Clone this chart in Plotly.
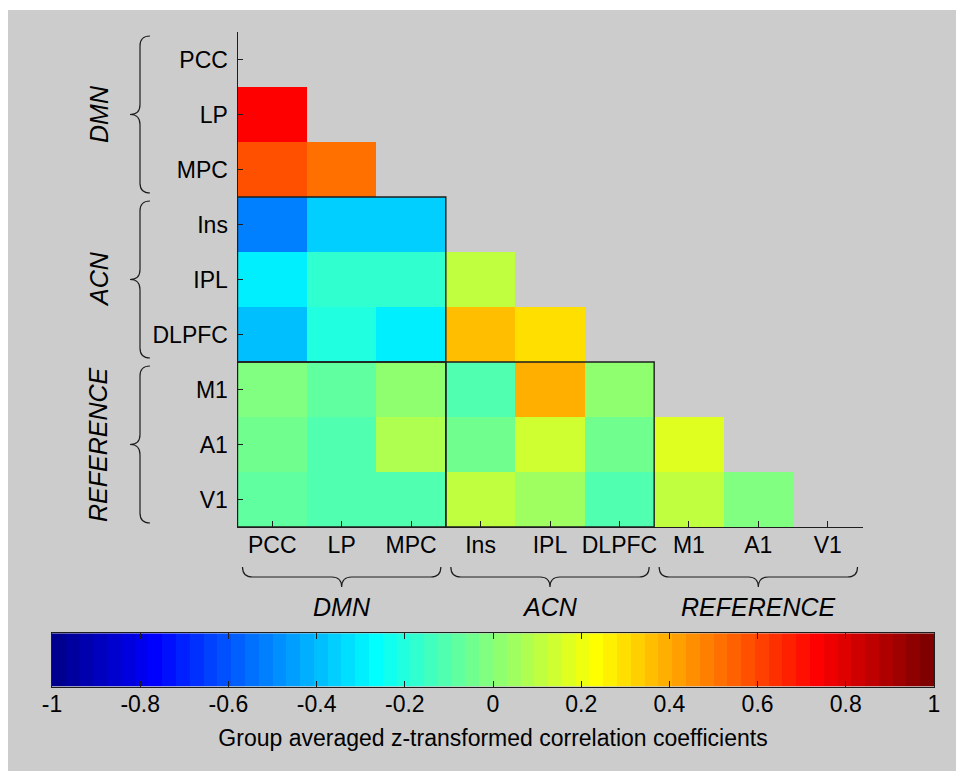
import numpy as np
import plotly.graph_objects as go

# ---------------------------------------------------------------- data
regions = ["PCC", "LP", "MPC", "Ins", "IPL", "DLPFC", "M1", "A1", "V1"]
groups = ["DMN", "ACN", "REFERENCE"]
group_spans = [(0, 3), (3, 6), (6, 9)]          # region index ranges per network

# lower-triangle rows of the group-averaged z-transformed correlation matrix
row_LP    = [0.73]
row_MPC   = [0.58, 0.52]
row_Ins   = [-0.52, -0.36, -0.36]
row_IPL   = [-0.30, -0.17, -0.17, 0.11]
row_DLPFC = [-0.39, -0.20, -0.30, 0.36, 0.30]
row_M1    = [-0.015, -0.08, 0.015, -0.11, 0.39, 0.015]
row_A1    = [-0.045, -0.11, 0.08, -0.045, 0.14, -0.045, 0.17]
row_V1    = [-0.08, -0.11, -0.11, 0.11, 0.045, -0.11, 0.11, -0.015]

cbar_ticks = [-1, -0.8, -0.6, -0.4, -0.2, 0, 0.2, 0.4, 0.6, 0.8, 1]
cbar_title = "Group averaged z-transformed correlation coefficients"

# ---------------------------------------------------------------- matrix
n = len(regions)
lower_rows = [[], row_LP, row_MPC, row_Ins, row_IPL, row_DLPFC, row_M1, row_A1, row_V1]
Z = np.full((n, n), np.nan)
for i, vals in enumerate(lower_rows):
    Z[i, :len(vals)] = vals


# ---------------------------------------------------------------- MATLAB jet(64), stepped
def jet(m=64):
    k = int(np.ceil(m / 4))
    u = np.concatenate([np.arange(1, k + 1) / k, np.ones(k - 1), np.arange(k, 0, -1) / k])
    g = int(np.ceil(k / 2)) - (1 if m % 4 == 1 else 0) + np.arange(1, len(u) + 1)
    r, b = g + k, g - k
    J = np.zeros((m, 3))
    for idx, col in ((r, 0), (g, 1), (b, 2)):
        ok = (idx >= 1) & (idx <= m)
        J[idx[ok] - 1, col] = u[ok]
    return J


LEVELS = 64
cmap = jet(LEVELS)
colorscale = []
for j, c in enumerate(cmap):
    rgb = "rgb({},{},{})".format(*[int(round(v * 255)) for v in c])
    colorscale.append([j / LEVELS, rgb])
    colorscale.append([(j + 1) / LEVELS, rgb])

# ---------------------------------------------------------------- geometry (pixels)
W, H = 956, 771
PX0, PX1 = 237.5, 862.5      # heatmap left/right
PY0, PY1 = 32.0, 527.0       # heatmap top/bottom
CX0, CX1 = 52.0, 934.0       # colour bar left/right
CY0, CY1 = 633.3, 686.7      # colour bar top/bottom


def fx(px):
    return px / W


def fy(py):
    return 1 - py / H


def col_px(c):
    return PX0 + c * (PX1 - PX0) / n


def row_px(r):
    return PY0 + r * (PY1 - PY0) / n


FONT = "Liberation Sans, Arial, sans-serif"
INK = "#1e1e1e"
BG = "#cccccc"

fig = go.Figure()

fig.add_trace(go.Heatmap(
    z=Z, x=list(range(n)), y=list(range(n)),
    colorscale=colorscale, zmin=-1, zmax=1, showscale=False,
    hoverongaps=False, xaxis="x", yaxis="y",
))

# colour bar drawn as its own strip of the 64 levels
centers = [-1 + (j + 0.5) * 2 / LEVELS for j in range(LEVELS)]
fig.add_trace(go.Heatmap(
    z=[centers], x=centers, y=[0],
    colorscale=colorscale, zmin=-1, zmax=1, showscale=False,
    xaxis="x2", yaxis="y2",
))

shapes = []
# grey panel (white strip along top and left edge)
shapes.append(dict(type="rect", xref="paper", yref="paper", x0=fx(8), x1=1, y0=0, y1=fy(10),
                   fillcolor=BG, line=dict(width=0), layer="below"))

# outlines of the between-network blocks
for gi in range(len(groups)):
    for gj in range(gi):
        r0, r1 = group_spans[gi]
        c0, c1 = group_spans[gj]
        shapes.append(dict(type="rect", xref="x", yref="y",
                           x0=c0 - 0.5, x1=c1 - 0.5, y0=r0 - 0.5, y1=r1 - 0.5,
                           line=dict(color=INK, width=1.4), layer="above"))


def pt(px, py):
    return f"{fx(px):.5f},{fy(py):.5f}"


def brace_left(y0, y1, xs=140.0, depth=10.0, rad=10.0):
    ym = (y0 + y1) / 2
    xt, xp = xs + depth, xs - depth
    return (f"M{pt(xt, y0)} Q{pt(xs, y0)} {pt(xs, y0 + rad)} L{pt(xs, ym - rad)} "
            f"Q{pt(xs, ym)} {pt(xp, ym)} Q{pt(xs, ym)} {pt(xs, ym + rad)} "
            f"L{pt(xs, y1 - rad)} Q{pt(xs, y1)} {pt(xt, y1)}")


def brace_bottom(x0, x1, ys=577.0, depth=10.0, rad=10.0):
    xm = (x0 + x1) / 2
    yt, yp = ys - depth, ys + depth
    return (f"M{pt(x0, yt)} Q{pt(x0, ys)} {pt(x0 + rad, ys)} L{pt(xm - rad, ys)} "
            f"Q{pt(xm, ys)} {pt(xm, yp)} Q{pt(xm, ys)} {pt(xm + rad, ys)} "
            f"L{pt(x1 - rad, ys)} Q{pt(x1, ys)} {pt(x1, yt)}")


annotations = []
for name, (a, b) in zip(groups, group_spans):
    y0, y1 = row_px(a) + 4, row_px(b) - 4
    shapes.append(dict(type="path", xref="paper", yref="paper", path=brace_left(y0, y1),
                       line=dict(color=INK, width=1.2)))
    annotations.append(dict(xref="paper", yref="paper", x=fx(98.5), y=fy((y0 + y1) / 2),
                            text=name, textangle=-90, showarrow=False,
                            xanchor="center", yanchor="middle",
                            font=dict(family=FONT, size=25, color="black", style="italic")))
    x0, x1 = col_px(a) + 5, col_px(b) - 5
    shapes.append(dict(type="path", xref="paper", yref="paper", path=brace_bottom(x0, x1),
                       line=dict(color=INK, width=1.2)))
    annotations.append(dict(xref="paper", yref="paper", x=fx((x0 + x1) / 2), y=fy(607),
                            text=name, showarrow=False, xanchor="center", yanchor="middle",
                            font=dict(family=FONT, size=25, color="black", style="italic")))

tickfont = dict(family=FONT, size=23, color="black")
axis_common = dict(showgrid=False, zeroline=False, showline=True, linecolor=INK, linewidth=1,
                   ticks="inside", tickcolor=INK, tickwidth=1, tickfont=tickfont,
                   fixedrange=True, automargin=False)

fig.update_layout(
    width=W, height=H, autosize=False,
    margin=dict(l=0, r=0, t=0, b=0, pad=0),
    paper_bgcolor="white", plot_bgcolor="rgba(0,0,0,0)",
    showlegend=False,
    xaxis=dict(axis_common, domain=[fx(PX0), fx(PX1)], range=[-0.5, n - 0.5],
               tickvals=list(range(n)), ticktext=regions, ticklen=6, anchor="y"),
    yaxis=dict(axis_common, domain=[fy(PY1), fy(PY0)], range=[n - 0.5, -0.5],
               tickvals=list(range(n)), ticktext=regions, ticklen=5, anchor="x",
               ticklabelstandoff=4),
    xaxis2=dict(axis_common, domain=[fx(CX0), fx(CX1)], range=[-1, 1], anchor="y2",
                tickvals=cbar_ticks, ticktext=[f"{v:g}" for v in cbar_ticks],
                ticklen=6, mirror="ticks",
                title=dict(text=cbar_title, standoff=13,
                           font=dict(family=FONT, size=23, color="black"))),
    yaxis2=dict(axis_common, domain=[fy(CY1), fy(CY0)], range=[-0.5, 0.5], anchor="x2",
                ticks="", showticklabels=False, mirror=True),
    shapes=shapes,
    annotations=annotations,
)

# pull the bottom tick labels a little closer to their axes
for axis_name, standoff in (("xaxis", -3), ("xaxis2", -3)):
    try:
        fig.layout[axis_name].ticklabelstandoff = standoff
    except ValueError:
        fig.layout[axis_name].ticklabelstandoff = 0

# the page itself gets no margin, so the figure sits flush in the window
page_setup = "document.body.style.margin = '0';"

fig.write_html("out.html", post_script=page_setup)
